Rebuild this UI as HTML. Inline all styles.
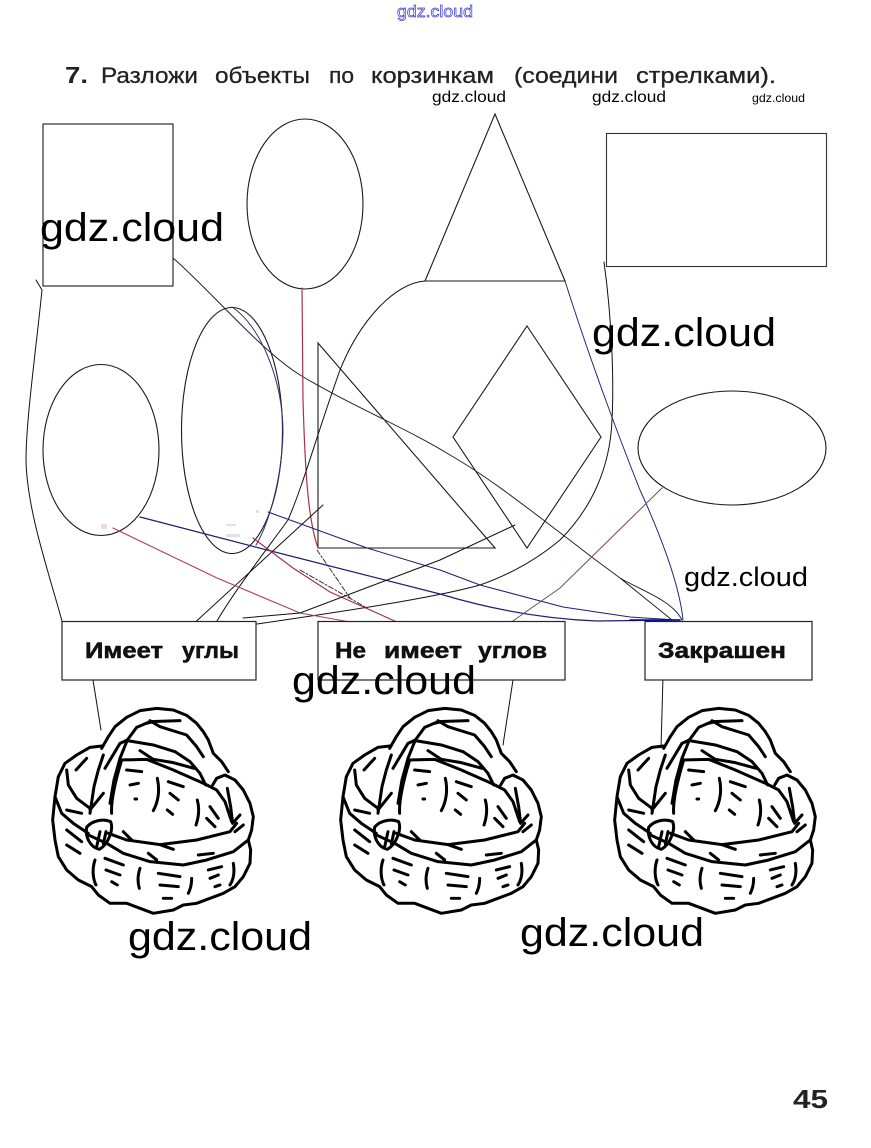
<!DOCTYPE html>
<html><head><meta charset="utf-8"><style>
html,body{margin:0;padding:0;background:#fff}
svg{display:block}
text{font-family:"Liberation Sans",sans-serif}
.wm{fill:#000;font-size:40px}
.lb{font-weight:700;font-size:22px;fill:#111;stroke:#111;stroke-width:.5}
.t{font-size:22px;fill:#222;stroke:#222;stroke-width:.3}
</style></head><body>
<svg width="871" height="1148" viewBox="0 0 871 1148" xmlns="http://www.w3.org/2000/svg">
<defs>
<g id="b" transform="translate(40,690) scale(.3333)" fill="none" stroke="#000" stroke-width="9" stroke-linecap="round" stroke-linejoin="round">
<!-- handle -->
<path d="M185 175L205 140L225 110L260 82L300 62L350 55L400 60L440 76L470 100L490 125L505 150L520 190L545 215L565 245"/>
<path d="M150 370L162 290L175 240L190 195M210 340L222 270L240 205L262 150L290 112L330 95L420 92"/>
<path d="M150 360L190 310M195 235L240 160L262 150M320 100L340 95M330 92L360 110L440 135L470 170L490 200"/>
<path d="M262 152L340 165L405 185L450 215L480 250L497 285M300 182L340 208L400 218L462 235"/>
<path d="M240 210L320 208L400 240L495 282L530 300L555 335L575 395"/>
<!-- rim left -->
<path d="M185 168L150 172L110 195L75 220L55 260L45 320L65 370L100 400L145 430"/>
<path d="M80 240L85 285L110 325L150 355M108 240L140 205M80 360L125 370"/>
<!-- body silhouette -->
<path d="M45 320L38 390L45 450L55 500L80 540L115 570L155 590L175 615L210 640L260 640L300 655L340 670L400 660L430 645L470 640L510 625L550 610L585 590L610 560L630 520L632 480L625 450"/>
<!-- rim right -->
<path d="M518 285L530 265L555 255L585 270L610 300L630 340L640 380L635 420L625 450L580 485L500 510L430 525L330 515L250 490L200 460L145 435"/>
<path d="M205 430L260 450L360 464L470 450L570 425L590 400M400 478L360 464M475 495L520 490M325 490L350 510"/>
<path d="M562 295L572 350L578 400M600 375L578 400M610 405L585 425"/>
<!-- cabbage -->
<path d="M215 370C212 330 230 260 245 210"/>
<!-- knot -->
<path d="M140 412C155 392 190 385 212 395C222 420 203 465 178 478C150 472 135 440 140 412ZM170 470L180 425M190 462L198 425M250 425L275 450"/>
<!-- marks -->
<path d="M260 240L305 245M270 285L295 280M285 327L290 327M352 265C360 300 355 335 340 362M385 275L430 290M390 310L415 330M382 360L398 373M472 330C480 360 475 385 468 405M500 385L525 410M510 350L535 385"/>
<path d="M165 510C155 540 160 570 168 585M195 505L250 525M198 540L240 555M215 575L232 585M300 535C290 565 295 585 298 595M355 550L420 560M360 585L415 590M370 625L395 625M455 565C455 585 450 600 445 610M505 540L545 530M510 565L535 555M525 590L540 585M580 520C585 550 580 570 570 585M80 420L125 455M80 465L120 490"/>
</g>
</defs>

<!-- top text -->
<text x="397" y="17" font-size="17" textLength="76" lengthAdjust="spacingAndGlyphs" fill="#fff" stroke="#3a3ad8" stroke-width=".7">gdz.cloud</text>
<text x="65" y="83" font-size="23" font-weight="700" fill="#222" textLength="23" lengthAdjust="spacingAndGlyphs">7.</text>
<text class="t" x="101" y="83" textLength="97" lengthAdjust="spacingAndGlyphs">Разложи</text>
<text class="t" x="215" y="83" textLength="95" lengthAdjust="spacingAndGlyphs">объекты</text>
<text class="t" x="329" y="83" textLength="25" lengthAdjust="spacingAndGlyphs">по</text>
<text class="t" x="371" y="83" textLength="123" lengthAdjust="spacingAndGlyphs">корзинкам</text>
<text class="t" x="514" y="83" textLength="104" lengthAdjust="spacingAndGlyphs">(соедини</text>
<text class="t" x="636" y="83" textLength="140" lengthAdjust="spacingAndGlyphs">стрелками).</text>

<!-- shapes -->
<g fill="none" stroke="#1a1a1a" stroke-width="1.1">
<rect x="43" y="124" width="130" height="162"/>
<ellipse cx="305" cy="204" rx="58" ry="85"/>
<path d="M495 114L425 281H565Z"/>
<rect x="606.500" y="133.500" width="220" height="133" stroke="#333"/>
<ellipse cx="101" cy="450" rx="58" ry="85.500"/>
<ellipse cx="232" cy="430.500" rx="50.500" ry="123"/>
<path d="M318 343V548H495Z"/>
<path d="M527 326L601 437L527 548L453 437Z"/>
<ellipse cx="732" cy="448" rx="94" ry="57"/>
</g>

<!-- connectors -->
<g fill="none" stroke-width="1" stroke-linecap="round">
<path stroke="#111" d="M36 280L42 290C36 350 26 420 26 460C27 510 48 570 62 621"/>
<path stroke="#223" d="M173 258C210 290 260 350 300 375C350 405 410 430 450 455C490 478 530 510 567 538L593 558L620 578C640 590 672 600 682 620"/>
<path stroke="#223" d="M620 578L672 620"/>
<path stroke="#a8324a" stroke-width="1.2" d="M302 288L303 400C305 470 308 520 318 548"/>
<path stroke="#333" stroke-dasharray="5 2 2 2" d="M317 550L350 598M300 570L367 608"/>
<path stroke="#111" d="M425 281C395 283 360 320 340 370C315 440 305 480 288 520C270 545 235 590 217 621"/>
<path stroke="#111" d="M323 505L190 627"/>
<path stroke="#33336e" d="M232 307C260 325 283 380 283 432C282 480 268 525 256 545"/>
<path stroke="#111" d="M604 262C612 320 614 380 612 420C610 470 590 510 560 540C530 565 500 578 480 585C440 596 380 606 257 624"/>
<path stroke="#26267a" d="M565 281C590 360 620 440 640 490C665 545 680 590 683 620"/>
<path stroke="#1f1f70" stroke-width="1.2" d="M140 517L267 550L440 594Q520 618 597 621L680 620"/>
<path stroke="#1f1f70" d="M268 512L367 548L440 570L480 585L563 607L630 617L677 620"/>
<path stroke="#b04058" stroke-width="1.1" d="M113 528L217 578L300 613L350 622"/>
<path stroke="#a03048" stroke-width="1.1" d="M253 538L293 568L330 592L397 622"/>
<path stroke="#7a4a5a" d="M662 488L560 588L510 623"/>
<path stroke="#111" d="M515 525L440 560L300 613L243 618"/>
<path stroke="#0000a0" stroke-width="1.6" d="M630 620H680"/>
<path stroke="#111" d="M93 680L101 730M513 680L503 745M663 677L661 748"/>
</g>

<!-- specks -->
<g fill="#e2e2e2">
<rect x="226" y="524" width="10" height="2"/><rect x="226" y="534" width="14" height="3"/><rect x="101" y="524" width="6" height="5" fill="#f0d8df"/><rect x="256" y="510" width="3" height="3"/>
</g>

<!-- boxes -->
<g fill="#fff" stroke="#222" stroke-width="1.2">
<rect x="62" y="621.500" width="194" height="58.500"/>
<rect x="318" y="621.500" width="247" height="58.500"/>
<rect x="645" y="621.500" width="167" height="58.500"/>
</g>
<text class="lb" x="85" y="658" textLength="78" lengthAdjust="spacingAndGlyphs">Имеет</text>
<text class="lb" x="182" y="658" textLength="57" lengthAdjust="spacingAndGlyphs">углы</text>
<text class="lb" x="335" y="658" textLength="31" lengthAdjust="spacingAndGlyphs">Не</text>
<text class="lb" x="384" y="658" textLength="78" lengthAdjust="spacingAndGlyphs">имеет</text>
<text class="lb" x="478" y="658" textLength="69" lengthAdjust="spacingAndGlyphs">углов</text>
<text class="lb" x="658" y="658" textLength="128" lengthAdjust="spacingAndGlyphs">Закрашен</text>

<!-- baskets -->
<use href="#b"/>
<use href="#b" x="288"/>
<use href="#b" x="562"/>

<!-- watermarks -->
<text class="wm" x="40" y="241" textLength="184" lengthAdjust="spacingAndGlyphs">gdz.cloud</text>
<text class="wm" x="592" y="346" textLength="184" lengthAdjust="spacingAndGlyphs">gdz.cloud</text>
<text class="wm" x="292" y="694" textLength="184" lengthAdjust="spacingAndGlyphs">gdz.cloud</text>
<text class="wm" x="128" y="950" textLength="184" lengthAdjust="spacingAndGlyphs">gdz.cloud</text>
<text class="wm" x="520" y="946" textLength="184" lengthAdjust="spacingAndGlyphs">gdz.cloud</text>
<text x="684" y="586" font-size="27" textLength="124" lengthAdjust="spacingAndGlyphs">gdz.cloud</text>
<text x="432" y="102" font-size="16" textLength="74" lengthAdjust="spacingAndGlyphs">gdz.cloud</text>
<text x="592" y="102" font-size="16" textLength="74" lengthAdjust="spacingAndGlyphs">gdz.cloud</text>
<text x="752" y="102" font-size="12" textLength="53" lengthAdjust="spacingAndGlyphs">gdz.cloud</text>

<text x="793" y="1108" font-size="26" font-weight="700" textLength="35" lengthAdjust="spacingAndGlyphs" fill="#222">45</text>
</svg>
</body></html>
